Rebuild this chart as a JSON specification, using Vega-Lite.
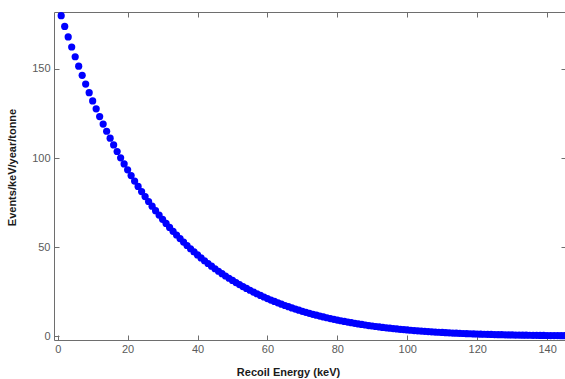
{
  "$schema": "https://vega.github.io/schema/vega-lite/v6.json",
  "autosize": {"type": "none"},
  "padding": {"left": 54, "top": 12, "right": 0, "bottom": 39},
  "width": 512,
  "height": 328,
  "background": "white",
  "config": {
    "view": {"stroke": null},
    "axis": {
      "domainColor": "#6e6e6e",
      "tickColor": "#6e6e6e",
      "domainWidth": 1,
      "tickWidth": 1,
      "grid": false,
      "labelFont": "Liberation Sans",
      "labelFontSize": 11,
      "labelColor": "#5a5a5a",
      "titleFont": "Liberation Sans",
      "titleFontSize": 11,
      "titleFontWeight": "bold",
      "titleColor": "#1a1a1a"
    }
  },
  "data": {
    "values": [
      {"E":1,"rate":179.95},{"E":2,"rate":173.88},{"E":3,"rate":168.02},{"E":4,"rate":162.35},{"E":5,"rate":156.87},
      {"E":6,"rate":151.57},{"E":7,"rate":146.45},{"E":8,"rate":141.50},{"E":9,"rate":136.71},{"E":10,"rate":132.08},
      {"E":11,"rate":127.60},{"E":12,"rate":123.28},{"E":13,"rate":119.09},{"E":14,"rate":115.04},{"E":15,"rate":111.12},
      {"E":16,"rate":107.33},{"E":17,"rate":103.66},{"E":18,"rate":100.12},{"E":19,"rate":96.69},{"E":20,"rate":93.36},
      {"E":21,"rate":90.15},{"E":22,"rate":87.05},{"E":23,"rate":84.04},{"E":24,"rate":81.13},{"E":25,"rate":78.32},
      {"E":26,"rate":75.59},{"E":27,"rate":72.96},{"E":28,"rate":70.41},{"E":29,"rate":67.94},{"E":30,"rate":65.55},
      {"E":31,"rate":63.25},{"E":32,"rate":61.01},{"E":33,"rate":58.85},{"E":34,"rate":56.76},{"E":35,"rate":54.74},
      {"E":36,"rate":52.78},{"E":37,"rate":50.88},{"E":38,"rate":49.05},{"E":39,"rate":47.28},{"E":40,"rate":45.57},
      {"E":41,"rate":43.91},{"E":42,"rate":42.31},{"E":43,"rate":40.76},{"E":44,"rate":39.26},{"E":45,"rate":37.81},
      {"E":46,"rate":36.41},{"E":47,"rate":35.05},{"E":48,"rate":33.74},{"E":49,"rate":32.48},{"E":50,"rate":31.25},
      {"E":51,"rate":30.07},{"E":52,"rate":28.93},{"E":53,"rate":27.82},{"E":54,"rate":26.76},{"E":55,"rate":25.73},
      {"E":56,"rate":24.73},{"E":57,"rate":23.77},{"E":58,"rate":22.84},{"E":59,"rate":21.94},{"E":60,"rate":21.08},
      {"E":61,"rate":20.24},{"E":62,"rate":19.44},{"E":63,"rate":18.66},{"E":64,"rate":17.91},{"E":65,"rate":17.18},
      {"E":66,"rate":16.49},{"E":67,"rate":15.81},{"E":68,"rate":15.16},{"E":69,"rate":14.54},{"E":70,"rate":13.93},
      {"E":71,"rate":13.35},{"E":72,"rate":12.79},{"E":73,"rate":12.25},{"E":74,"rate":11.73},{"E":75,"rate":11.23},
      {"E":76,"rate":10.75},{"E":77,"rate":10.29},{"E":78,"rate":9.84},{"E":79,"rate":9.41},{"E":80,"rate":9.00},
      {"E":81,"rate":8.60},{"E":82,"rate":8.22},{"E":83,"rate":7.85},{"E":84,"rate":7.50},{"E":85,"rate":7.16},
      {"E":86,"rate":6.83},{"E":87,"rate":6.52},{"E":88,"rate":6.22},{"E":89,"rate":5.93},{"E":90,"rate":5.66},
      {"E":91,"rate":5.39},{"E":92,"rate":5.13},{"E":93,"rate":4.89},{"E":94,"rate":4.66},{"E":95,"rate":4.43},
      {"E":96,"rate":4.22},{"E":97,"rate":4.01},{"E":98,"rate":3.82},{"E":99,"rate":3.63},{"E":100,"rate":3.45},
      {"E":101,"rate":3.28},{"E":102,"rate":3.11},{"E":103,"rate":2.96},{"E":104,"rate":2.80},{"E":105,"rate":2.66},
      {"E":106,"rate":2.52},{"E":107,"rate":2.39},{"E":108,"rate":2.27},{"E":109,"rate":2.15},{"E":110,"rate":2.04},
      {"E":111,"rate":1.93},{"E":112,"rate":1.82},{"E":113,"rate":1.72},{"E":114,"rate":1.63},{"E":115,"rate":1.54},
      {"E":116,"rate":1.46},{"E":117,"rate":1.38},{"E":118,"rate":1.30},{"E":119,"rate":1.23},{"E":120,"rate":1.16},
      {"E":121,"rate":1.09},{"E":122,"rate":1.03},{"E":123,"rate":0.97},{"E":124,"rate":0.91},{"E":125,"rate":0.86},
      {"E":126,"rate":0.81},{"E":127,"rate":0.76},{"E":128,"rate":0.71},{"E":129,"rate":0.67},{"E":130,"rate":0.63},
      {"E":131,"rate":0.59},{"E":132,"rate":0.56},{"E":133,"rate":0.52},{"E":134,"rate":0.49},{"E":135,"rate":0.46},
      {"E":136,"rate":0.43},{"E":137,"rate":0.40},{"E":138,"rate":0.38},{"E":139,"rate":0.35},{"E":140,"rate":0.33},
      {"E":141,"rate":0.31},{"E":142,"rate":0.29},{"E":143,"rate":0.27},{"E":144,"rate":0.25},{"E":145,"rate":0.23},
      {"E":146,"rate":0.22}
    ]
  },
  "layer": [
    {
      "mark": {"type": "point", "filled": true, "color": "#0000ff", "opacity": 1, "size": 52},
      "encoding": {
        "x": {
          "field": "E", "type": "quantitative",
          "scale": {"domain": [-1.06, 145.4], "nice": false, "zero": false},
          "axis": {
            "orient": "bottom",
            "values": [0, 20, 40, 60, 80, 100, 120, 140],
            "tickSize": -5,
            "labelPadding": 8,
            "title": "Recoil Energy (keV)",
            "titleX": 234,
            "titleY": 32,
            "titleAnchor": null,
            "titleAlign": "center",
            "titleBaseline": "middle"
          }
        },
        "y": {
          "field": "rate", "type": "quantitative",
          "scale": {"domain": [-2.2, 182], "nice": false, "zero": false},
          "axis": {
            "orient": "left",
            "values": [0, 50, 100, 150],
            "tickSize": -5,
            "labelPadding": 9,
            "title": "Events/keV/year/tonne",
            "titleX": -42,
            "titleY": 155,
            "titleAngle": -90,
            "titleAlign": "center",
            "titleBaseline": "middle"
          }
        }
      }
    },
    {
      "mark": {"type": "point", "filled": true, "opacity": 0, "size": 1},
      "encoding": {
        "x": {
          "field": "E", "type": "quantitative",
          "axis": {"orient": "top", "values": [0, 20, 40, 60, 80, 100, 120, 140], "tickSize": -5, "labels": false, "title": null}
        },
        "y": {
          "field": "rate", "type": "quantitative",
          "axis": {"orient": "right", "values": [0, 50, 100, 150], "tickSize": -5, "labels": false, "title": null}
        }
      }
    }
  ],
  "resolve": {"axis": {"x": "independent", "y": "independent"}}
}
